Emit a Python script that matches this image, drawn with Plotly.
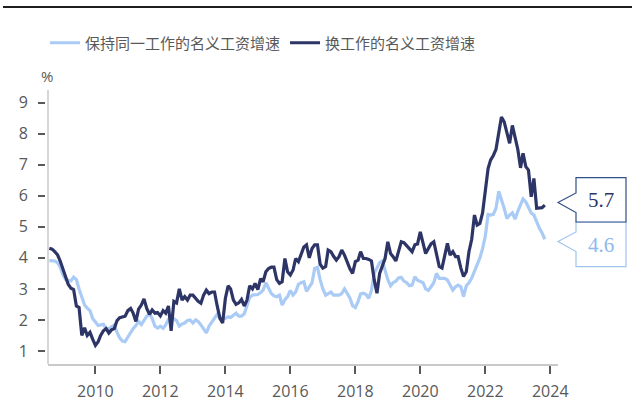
import plotly.graph_objects as go
import pandas as pd

# ---------------- data (monthly, Aug 2008 - Nov 2023) ----------------
start_month = "2008-08-01"
series_names = ["保持同一工作的名义工资增速", "换工作的名义工资增速"]

stayers = [
    3.91, 3.91, 3.90, 3.85, 3.70,                                         # 2008 Aug-Dec
    3.45, 3.30, 3.28, 3.26, 3.38, 3.30, 3.00, 2.70, 2.48, 2.38, 2.30, 2.05,  # 2009
    1.92, 1.82, 1.84, 1.86, 1.72, 1.72, 1.78, 1.84, 1.60, 1.42, 1.32, 1.30,  # 2010
    1.45, 1.60, 1.72, 1.82, 1.95, 1.85, 2.00, 2.12, 2.20, 2.05, 1.80, 1.74,  # 2011
    1.80, 1.73, 1.84, 2.02, 2.10, 2.05, 1.98, 1.80, 1.87, 1.90, 1.98, 2.00,  # 2012
    1.90, 2.00, 1.95, 1.84, 1.72, 1.58, 1.80, 1.92, 2.05, 2.18, 2.05, 2.02,  # 2013
    2.05, 2.10, 2.08, 2.16, 2.22, 2.12, 2.12, 2.20, 2.50, 2.72, 2.80, 2.80,  # 2014
    2.82, 2.88, 2.96, 3.20, 3.00, 2.85, 2.78, 2.75, 2.80, 2.48, 2.65, 2.75,  # 2015
    2.95, 2.80, 2.90, 3.15, 3.20, 3.23, 2.92, 3.05, 3.20, 3.66, 3.70, 3.30,  # 2016
    3.00, 2.80, 2.84, 2.90, 2.80, 2.80, 2.80, 2.85, 3.00, 2.86, 2.70, 2.46,  # 2017
    2.40, 2.60, 2.84, 2.86, 2.82, 2.70, 2.95, 3.50, 3.70, 3.85, 3.90, 3.62,  # 2018
    3.30, 3.10, 3.20, 3.25, 3.35, 3.37, 3.25, 3.20, 3.10, 3.12, 3.39, 3.28,  # 2019
    3.23, 3.20, 3.00, 2.95, 3.07, 3.20, 3.50, 3.34, 3.34, 3.34, 3.29, 3.10,  # 2020
    2.96, 3.07, 3.12, 3.07, 2.75, 3.10, 3.20, 3.35, 3.55, 3.80, 4.00, 4.30,  # 2021
    4.70, 5.40, 5.38, 5.40, 5.60, 6.15, 5.90, 5.60, 5.27, 5.38, 5.45, 5.25,  # 2022
    5.50, 5.70, 5.90, 5.80, 5.65, 5.45, 5.38, 5.15, 4.95, 4.80, 4.60,        # 2023 Jan-Nov
]

switchers = [
    4.31, 4.28, 4.20, 4.10, 3.90,                                         # 2008 Aug-Dec
    3.65, 3.38, 3.15, 3.02, 2.98, 2.45, 2.40, 1.50, 1.75, 1.50, 1.60, 1.38,  # 2009
    1.18, 1.30, 1.50, 1.65, 1.72, 1.58, 1.68, 1.72, 1.98, 2.07, 2.10, 2.12,  # 2010
    2.30, 2.37, 2.22, 1.95, 2.35, 2.48, 2.68, 2.37, 2.18, 2.32, 2.22, 2.24,  # 2011
    2.13, 2.30, 2.22, 2.45, 1.65, 2.60, 2.55, 3.00, 2.64, 2.75, 2.64, 2.80,  # 2012
    2.80, 2.70, 2.60, 2.54, 2.80, 2.96, 2.85, 2.90, 2.90, 2.45, 2.05, 1.90,  # 2013
    2.70, 3.10, 3.00, 2.64, 2.50, 2.55, 2.66, 2.45, 2.64, 3.10, 3.00, 3.18,  # 2014
    2.98, 3.33, 3.23, 3.55, 3.66, 3.70, 3.70, 3.30, 3.18, 3.23, 3.98, 3.55,  # 2015
    3.45, 3.61, 3.98, 3.88, 4.15, 4.35, 4.42, 4.00, 4.30, 4.42, 4.42, 3.80,  # 2016
    3.67, 3.72, 4.25, 4.20, 4.05, 3.93, 4.04, 4.25, 4.09, 3.85, 3.65, 3.50,  # 2017
    3.88, 3.93, 4.20, 3.98, 3.98, 3.95, 3.90, 3.29, 2.86, 3.50, 3.75, 3.98,  # 2018
    4.52, 4.14, 4.04, 3.90, 4.20, 4.52, 4.49, 4.40, 4.30, 4.20, 4.42, 4.45,  # 2019
    4.84, 4.47, 4.14, 4.30, 4.45, 4.52, 4.14, 3.72, 3.67, 4.10, 4.47, 4.09,  # 2020
    4.20, 4.04, 4.04, 3.67, 3.40, 3.55, 4.20, 4.60, 5.38, 5.06, 5.11, 5.45,  # 2021
    6.20, 6.88, 7.15, 7.30, 7.50, 8.06, 8.54, 8.38, 8.06, 7.69, 8.27, 7.90,  # 2022
    7.50, 6.90, 7.37, 6.94, 6.83, 5.97, 6.56, 5.60, 5.60, 5.62, 5.70,        # 2023 Jan-Nov
]

tick_years = [2010, 2012, 2014, 2016, 2018, 2020, 2022, 2024]
y_ticks = [1, 2, 3, 4, 5, 6, 7, 8, 9]

dates = pd.date_range(start_month, periods=len(stayers), freq="MS")

# ---------------- styling ----------------
LIGHT = "#a9cbf6"
DARK = "#2d3567"
GRAY_TXT = "#595959"
AXIS_GRAY = "#c9c9c9"

W, H = 632, 414
ML, MR, MT, MB = 45, 74, 90, 50
PW, PH = W - ML - MR, H - MT - MB


def pxx(x):
    return (x - ML) / PW


def pxy(y):
    return (H - MB - y) / PH


fig = go.Figure()
fig.add_trace(go.Scatter(x=dates, y=stayers, mode="lines", name=series_names[0],
                         line=dict(color=LIGHT, width=3.2)))
fig.add_trace(go.Scatter(x=dates, y=switchers, mode="lines", name=series_names[1],
                         line=dict(color=DARK, width=3.2)))

shapes = []
# top rule
shapes.append(dict(type="line", xref="paper", yref="paper",
                   x0=pxx(3), x1=pxx(632), y0=pxy(7), y1=pxy(7),
                   line=dict(color="#1e1e1e", width=2)))
# y axis line (slightly right of tick marks)
shapes.append(dict(type="line", xref="paper", yref="paper",
                   x0=pxx(48), x1=pxx(48), y0=0, y1=1,
                   line=dict(color=AXIS_GRAY, width=1.5)))


def callout(top, bottom, tip_y, color):
    left, right, tip_x = 576, 626, 558
    path = (f"M{pxx(left)},{pxy(top)} L{pxx(right)},{pxy(top)} "
            f"L{pxx(right)},{pxy(bottom)} L{pxx(left)},{pxy(bottom)} "
            f"L{pxx(left)},{pxy(tip_y + 10)} L{pxx(tip_x)},{pxy(tip_y)} "
            f"L{pxx(left)},{pxy(tip_y - 9.5)} Z")
    return dict(type="path", xref="paper", yref="paper", path=path,
                fillcolor="white", line=dict(color=color, width=1.2))


shapes.append(callout(222, 266.7, 241.5, "#9fc4f0"))
shapes.append(callout(177.7, 222, 202.5, "#2f4f86"))

annotations = [
    dict(text="%", xref="paper", yref="paper", x=pxx(47), y=pxy(76),
         showarrow=False, font=dict(size=15, color=GRAY_TXT, family="Open Sans"),
         xanchor="center", yanchor="middle"),
    dict(text=f"{switchers[-1]:.1f}", xref="paper", yref="paper", x=pxx(601), y=pxy(200),
         showarrow=False, font=dict(size=21, color=DARK, family="Liberation Serif"),
         xanchor="center", yanchor="middle"),
    dict(text=f"{stayers[-1]:.1f}", xref="paper", yref="paper", x=pxx(601), y=pxy(245),
         showarrow=False, font=dict(size=21, color="#8fb8ee", family="Liberation Serif"),
         xanchor="center", yanchor="middle"),
]

fig.update_layout(
    width=W, height=H,
    margin=dict(l=ML, r=MR, t=MT, b=MB),
    paper_bgcolor="white", plot_bgcolor="white",
    showlegend=True,
    legend=dict(orientation="h", x=pxx(45), xanchor="left", y=pxy(43), yanchor="middle",
                font=dict(size=15, color=GRAY_TXT, family="Noto Sans CJK SC"),
                bgcolor="rgba(0,0,0,0)", itemwidth=30, tracegroupgap=0),
    xaxis=dict(
        domain=[3 / PW, 1],
        range=["2008-07-17", "2024-03-28"],
        tickvals=[f"{y}-01-01" for y in tick_years],
        ticktext=[str(y) for y in tick_years],
        showgrid=False, zeroline=False,
        showline=True, linecolor=AXIS_GRAY, linewidth=1.5,
        ticks="outside", ticklen=8, tickwidth=1.5, tickcolor=GRAY_TXT,
        tickfont=dict(size=16, color=GRAY_TXT, family="Open Sans"),
        ticklabelstandoff=4,
    ),
    yaxis=dict(
        anchor="free", position=0,
        range=[0.58, 9.41],
        tickvals=y_ticks,
        showgrid=False, zeroline=False, showline=False,
        ticks="outside", ticklen=7, tickwidth=1.5, tickcolor=GRAY_TXT,
        tickfont=dict(size=16, color=GRAY_TXT, family="Open Sans"),
        ticklabelstandoff=7,
    ),
    shapes=shapes,
    annotations=annotations,
)

fig.write_html("out.html", config={"displayModeBar": False})

# remove the default page margin so the figure sits at the window's origin
with open("out.html", "r", encoding="utf-8") as f:
    html = f.read()
html = html.replace("<head>", "<head><style>html,body{margin:0;padding:0;overflow:hidden;}</style>", 1)
with open("out.html", "w", encoding="utf-8") as f:
    f.write(html)
